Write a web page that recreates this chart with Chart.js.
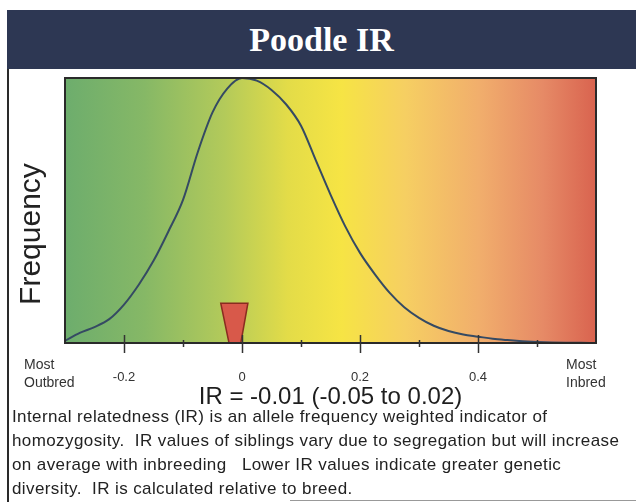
<!DOCTYPE html>
<html>
<head>
<meta charset="utf-8">
<script src="https://cdn.jsdelivr.net/npm/chart.js@4.4.1/dist/chart.umd.min.js"></script>
<style>
  html, body { margin: 0; padding: 0; background: #ffffff; }
  #wrap { position: relative; width: 636px; height: 502px; overflow: hidden; background: #fff; }
  #chartBox { position: absolute; left: 0; top: 0; width: 636px; height: 502px; }
  #bar { position: absolute; left: 7px; top: 10px; width: 629px; height: 59px; background: #2d3753;
         color: #fff; font: bold 34px "Liberation Serif", "DejaVu Serif", serif; text-align: center; line-height: 59px; }
  #frameL { position: absolute; left: 7px; top: 69px; width: 2px; height: 433px; background: #2a2a2a; }
  #frameB { position: absolute; left: 290px; top: 500px; width: 346px; height: 1px; background: #999; }
  #ylab { position: absolute; left: 30px; top: 234px; transform: translate(-50%, -50%) rotate(-90deg);
          font: 30px "Liberation Sans", Arial, sans-serif; color: #222; white-space: nowrap; }
  .end { position: absolute; font: 14px "Liberation Sans", Arial, sans-serif; color: #333; line-height: 18px; }
  #para { position: absolute; left: 12px; top: 405px; font: 17px "Liberation Sans", Arial, sans-serif;
          letter-spacing: 0.4px; color: #222; line-height: 24px; white-space: pre; }
</style>
</head>
<body>
<div id="wrap">
  <div id="chartBox"><canvas id="c"></canvas></div>
  <div id="bar">Poodle IR</div>
  <div id="frameL"></div>
  <div id="frameB"></div>
  <div id="ylab">Frequency</div>
  <div class="end" style="left:24px; top:355px;">Most<br>Outbred</div>
  <div class="end" style="left:566px; top:355px;">Most<br>Inbred</div>
  <div id="para">Internal relatedness (IR) is an allele frequency weighted indicator of
homozygosity.  IR values of siblings vary due to segregation but will increase
on average with inbreeding   Lower IR values indicate greater genetic
diversity.  IR is calculated relative to breed.</div>
</div>
<script>
// ---- data ----
const irValues = [-0.3, -0.275, -0.25, -0.225, -0.2, -0.175, -0.15, -0.125, -0.1, -0.075, -0.05, -0.025,
                  0, 0.025, 0.05, 0.075, 0.1, 0.125, 0.15, 0.175, 0.2, 0.225, 0.25, 0.275, 0.3, 0.325,
                  0.35, 0.375, 0.4, 0.425, 0.45, 0.475, 0.5, 0.525, 0.55, 0.575, 0.6];
const frequency = [0.008, 0.038, 0.06, 0.09, 0.145, 0.22, 0.31, 0.42, 0.54, 0.72, 0.87, 0.96,
                   1.0, 0.99, 0.955, 0.9, 0.82, 0.69, 0.56, 0.44, 0.34, 0.26, 0.19, 0.135, 0.095, 0.065,
                   0.045, 0.032, 0.024, 0.016, 0.011, 0.007, 0.004, 0.002, 0.001, 0.0005, 0.0002];
const markerIR = [-0.022, -0.036, 0.01, -0.002, -0.022];
const markerHeight = [0, 0.15, 0.15, 0, 0];
const tickValues = [-0.2, -0.1, 0, 0.1, 0.2, 0.3, 0.4, 0.5];
const majorTicks = [-0.2, 0, 0.2, 0.4];
const tickLabels = ['-0.2', '0', '0.2', '0.4'];
const irSummary = 'IR = -0.01 (-0.05 to 0.02)';

const bgPlugin = {
  id: 'bg',
  beforeDatasetsDraw(chart) {
    const {ctx, chartArea: a} = chart;
    const g = ctx.createLinearGradient(a.left, 0, a.right, 0);
    g.addColorStop(0.00, '#6dad6d');
    g.addColorStop(0.15, '#86b866');
    g.addColorStop(0.30, '#b3ca5a');
    g.addColorStop(0.42, '#e3dc48');
    g.addColorStop(0.52, '#f6e444');
    g.addColorStop(0.64, '#f6cf62');
    g.addColorStop(0.78, '#f1ae6c');
    g.addColorStop(0.90, '#e68a66');
    g.addColorStop(1.00, '#d9634f');
    ctx.save();
    ctx.fillStyle = g;
    ctx.fillRect(a.left, a.top, a.right - a.left, a.bottom - a.top);
    ctx.restore();
  },
  afterDraw(chart) {
    const {ctx, chartArea: a} = chart;
    const xs = chart.scales.x;
    ctx.save();
    ctx.strokeStyle = '#2a2a2a';
    ctx.lineWidth = 2;
    ctx.strokeRect(a.left, a.top, a.right - a.left, a.bottom - a.top);
    ctx.lineWidth = 1.5;
    ctx.strokeStyle = '#333';
    tickValues.forEach(v => {
      const px = Math.round(xs.getPixelForValue(v)) + 0.5;
      const major = majorTicks.some(m => Math.abs(m - v) < 1e-9);
      ctx.beginPath();
      ctx.moveTo(px, a.bottom - (major ? 8 : 3));
      ctx.lineTo(px, a.bottom + (major ? 10 : 4));
      ctx.stroke();
    });
    ctx.restore();
  }
};

new Chart(document.getElementById('c'), {
  type: 'line',
  data: {
    datasets: [
      {
        label: 'IR',
        data: markerIR.map((x, i) => ({x: x, y: markerHeight[i]})),
        borderColor: '#8a2c20',
        borderWidth: 1.5,
        backgroundColor: '#d8594a',
        pointRadius: 0,
        tension: 0,
        fill: 'shape'
      },
      {
        label: 'Frequency',
        data: irValues.map((x, i) => ({x: x, y: frequency[i]})),
        borderColor: '#354a63',
        borderWidth: 2,
        pointRadius: 0,
        fill: false,
        cubicInterpolationMode: 'monotone'
      }
    ]
  },
  options: {
    responsive: true,
    maintainAspectRatio: false,
    animation: false,
    events: [],
    layout: { padding: { left: 65, right: 40, top: 78, bottom: 90 } },
    plugins: { legend: { display: false }, tooltip: { enabled: false }, title: { display: false } },
    scales: {
      x: {
        type: 'linear',
        min: -0.3,
        max: 0.6,
        afterBuildTicks(scale) { scale.ticks = tickValues.map(v => ({value: v})); },
        afterFit(scale) { scale.height = 69; },
        border: { display: true, color: '#2a2a2a', width: 2 },
        grid: { display: true, drawOnChartArea: false, drawTicks: true, tickLength: 10, color: 'rgba(0,0,0,0)' },
        ticks: {
          padding: 17,
          maxRotation: 0,
          autoSkip: false,
          color: '#333',
          font: { family: '"Liberation Sans", Arial, sans-serif', size: 13 },
          callback(value) {
            const i = majorTicks.findIndex(m => Math.abs(m - value) < 1e-9);
            return i >= 0 ? tickLabels[i] : '';
          }
        },
        title: {
          display: true,
          text: irSummary,
          color: '#1e1e1e',
          padding: { top: 0, bottom: 0 },
          font: { family: '"Liberation Sans", Arial, sans-serif', size: 24 }
        }
      },
      y: {
        display: false,
        min: 0,
        max: 1.0
      }
    }
  },
  plugins: [bgPlugin]
});
</script>
</body>
</html>
